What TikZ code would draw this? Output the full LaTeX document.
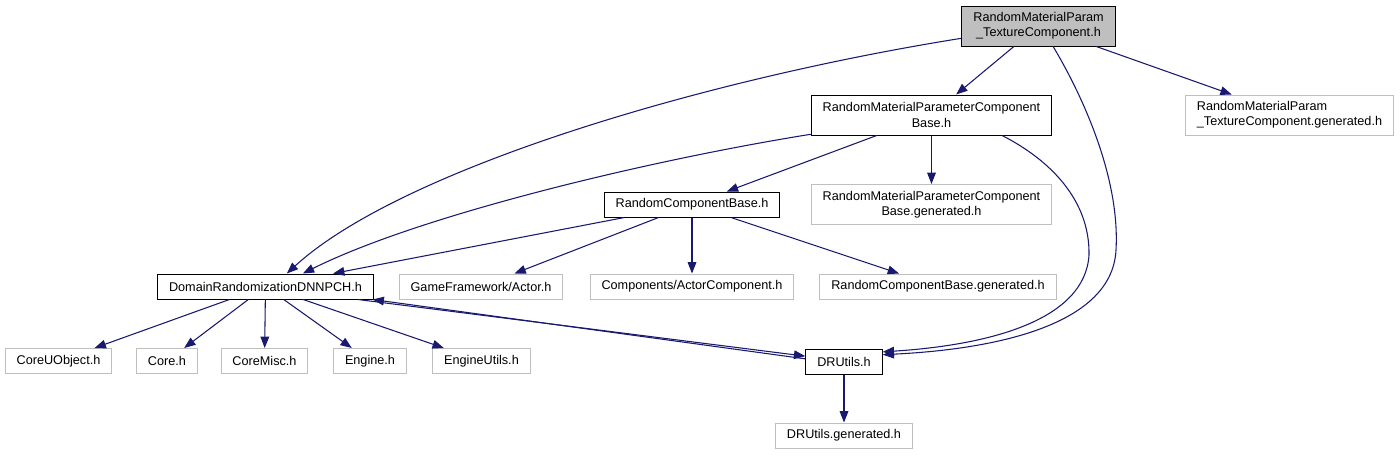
\documentclass[tikz,border=0pt]{standalone}
\usepackage{fontspec}
\setmainfont{Liberation Sans}
\usetikzlibrary{arrows.meta}
\definecolor{EdgeNavy}{RGB}{25,25,112}
\definecolor{NodeGrey}{RGB}{191,191,191}

\begin{document}
\begin{tikzpicture}[x=0.75pt, y=-0.75pt, >={Triangle[length=8.5pt,width=6.5pt]}, font=\fontsize{9.5}{11.5}\selectfont]
    \tikzstyle{file} = [rectangle, draw=black, fill=white, line width=0.75pt, inner xsep=8.6pt, inner ysep=2pt, minimum height=18.75pt]
    \tikzstyle{extfile} = [file, draw=NodeGrey]
    \tikzstyle{twoline} = [minimum height=30pt, align=center]
    \tikzstyle{arrow} = [->, line width=0.8pt, color=EdgeNavy]

    \useasboundingbox (0,0) rectangle (1400,455);

    % headers of the project
    \node [file, twoline, fill=NodeGrey] (top) at (1038.5,26) {RandomMaterialParam\\\_TextureComponent.h};
    \node [file, twoline] (rmpcb) at (931.5,115) {RandomMaterialParameterComponent\\Base.h};
    \node [file] (rcb) at (692,204.5) {RandomComponentBase.h};
    \node [file] (drpch) at (265.5,286.5) {DomainRandomizationDNNPCH.h};
    \node [file] (drutils) at (844,361.5) {DRUtils.h};

    % generated and engine headers
    \node [extfile, twoline, align=left] (rmptgen) at (1289.5,115) {RandomMaterialParam\\\_TextureComponent.generated.h};
    \node [extfile, twoline] (rmpcbgen) at (931.5,204.5) {RandomMaterialParameterComponent\\Base.generated.h};
    \node [extfile] (actor) at (481,286.5) {GameFramework/Actor.h};
    \node [extfile] (actcomp) at (692,286.5) {Components/ActorComponent.h};
    \node [extfile] (rcbgen) at (938,286.5) {RandomComponentBase.generated.h};
    \node [extfile] (coreuobj) at (58.5,361) {CoreUObject.h};
    \node [extfile] (core) at (167,361) {Core.h};
    \node [extfile] (coremisc) at (264.5,361) {CoreMisc.h};
    \node [extfile] (engine) at (370,361) {Engine.h};
    \node [extfile] (engutils) at (481.5,361) {EngineUtils.h};
    \node [extfile] (drugen) at (844,435.5) {DRUtils.generated.h};

    \coordinate (bendA) at (1116,250);
    \coordinate (bendB) at (1089,255);

    \draw [arrow] (top) -- (rmpcb);
    \draw [arrow] (top) -- (rmptgen);
    \draw [arrow] (top) .. controls (700,80) and (400,170) .. ([xshift=16pt]drpch.north);
    \draw [arrow] ([xshift=11pt]top.south) .. controls (1085,100) and (1120,180) .. (bendA) .. controls (1112,330) and (980,350) .. (drutils.10);

    \draw [arrow] (rmpcb) -- (rcb);
    \draw [arrow] (rmpcb) -- (rmpcbgen);
    \draw [arrow] (rmpcb) .. controls (650,160) and (420,215) .. ([xshift=28pt]drpch.north);
    \draw [arrow] ([xshift=53pt]rmpcb.south) .. controls (1050,160) and (1090,200) .. (bendB) .. controls (1085,320) and (990,345) .. (drutils.14);

    \draw [arrow] (rcb) -- (drpch);
    \draw [arrow] (rcb) -- (actor);
    \draw [arrow] (rcb) -- (actcomp);
    \draw [arrow] (rcb) -- (rcbgen);

    \draw [arrow] (drpch) -- (coreuobj);
    \draw [arrow] (drpch) -- (core);
    \draw [arrow] (drpch) -- (coremisc);
    \draw [arrow] (drpch) -- (engine);
    \draw [arrow] (drpch) -- (engutils);
    \draw [arrow] ([xshift=-12pt]drpch.south east) -- ([yshift=4pt]drutils.west);
    \draw [arrow] ([yshift=2pt]drutils.west) -- ([xshift=-1pt]drpch.south east);

    \draw [arrow] (drutils) -- (drugen);
\end{tikzpicture}
\end{document}
